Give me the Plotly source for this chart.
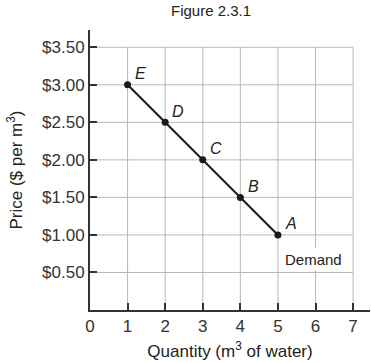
import plotly.graph_objects as go

quantity = [1, 2, 3, 4, 5]
price = [3.00, 2.50, 2.00, 1.50, 1.00]
point_labels = ["E", "D", "C", "B", "A"]
x_ticks = [0, 1, 2, 3, 4, 5, 6, 7]
y_ticks = [0.5, 1.0, 1.5, 2.0, 2.5, 3.0, 3.5]
y_tick_labels = ["$0.50", "$1.00", "$1.50", "$2.00", "$2.50", "$3.00", "$3.50"]

FONT = "Liberation Sans, Arial, sans-serif"
fig = go.Figure()
fig.add_trace(go.Scatter(
    x=quantity, y=price, mode="lines+markers",
    line=dict(color="#1a1a1a", width=2),
    marker=dict(color="#1a1a1a", size=7),
    showlegend=False, hoverinfo="skip"))

shapes = []
for xv in x_ticks[1:]:
    shapes.append(dict(type="line", xref="x", yref="y", x0=xv, x1=xv, y0=0, y1=max(y_ticks),
                       line=dict(color="#b8b8b8", width=1), layer="below"))
for yv in y_ticks:
    shapes.append(dict(type="line", xref="x", yref="y", x0=0, x1=max(x_ticks), y0=yv, y1=yv,
                       line=dict(color="#b8b8b8", width=1), layer="below"))

annotations = []
for xq, yp, lab in zip(quantity, price, point_labels):
    annotations.append(dict(x=xq, y=yp, xref="x", yref="y", text="<i>" + lab + "</i>",
                            showarrow=False, xshift=13, yshift=11,
                            font=dict(family=FONT, size=16, color="#222")))
annotations.append(dict(x=6, y=1.0, xref="x", yref="y", text="Demand", showarrow=False,
                        yshift=-25, xshift=-2, bgcolor="white", borderpad=2,
                        font=dict(family=FONT, size=15, color="#222")))
annotations.append(dict(x=0.431, y=1, xref="paper", yref="paper", text="Figure 2.3.1",
                        showarrow=False, yshift=20, yanchor="middle",
                        font=dict(family=FONT, size=15, color="#222")))

fig.update_layout(
    width=371, height=363,
    margin=dict(l=90, r=1, t=30, b=53),
    paper_bgcolor="white", plot_bgcolor="white",
    font=dict(family=FONT, size=16, color="#333"),
    shapes=shapes, annotations=annotations,
    xaxis=dict(range=[0, 7.45], tickvals=x_ticks, ticktext=[str(v) for v in x_ticks],
               showgrid=False, zeroline=False, showline=True, linecolor="#333", linewidth=2,
               ticks="inside", ticklen=7, tickcolor="#333", tickwidth=1.5,
               title=dict(text="Quantity (m<sup>3</sup> of water)", standoff=10,
                          font=dict(family=FONT, size=17, color="#222")),
               tickfont=dict(family=FONT, size=17, color="#333")),
    yaxis=dict(range=[0, 3.73], tickvals=y_ticks, ticktext=y_tick_labels,
               showgrid=False, zeroline=False, showline=True, linecolor="#333", linewidth=2,
               ticks="inside", ticklen=7, tickcolor="#333", tickwidth=1.5,
               title=dict(text="Price ($ per m<sup>3</sup>)", standoff=15,
                          font=dict(family=FONT, size=17, color="#222")),
               tickfont=dict(family=FONT, size=17, color="#333")),
)
fig.write_html("out.html", config={"displayModeBar": False},
               post_script="document.body.style.margin='0';document.body.style.overflow='hidden';")
